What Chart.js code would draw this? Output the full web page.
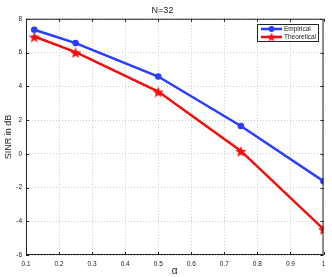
<!DOCTYPE html>
<html>
<head>
<meta charset="utf-8">
<script src="https://cdn.jsdelivr.net/npm/chart.js@4.4.1/dist/chart.umd.min.js"></script>
<style>
  html, body { margin: 0; padding: 0; background: #fff; }
  #wrap { width: 332px; height: 277px; }
</style>
</head>
<body>
<div id="wrap"><canvas id="c" width="332" height="277"></canvas></div>
<script>
const alphas = [0.125, 0.25, 0.5, 0.75, 1]
const empirical = [7.35, 6.56, 4.58, 1.65, -1.63]
const theoretical = [6.95, 6.02, 3.69, 0.17, -4.47]
const seriesNames = ["Empirical", "Theoretical"]

const BLUE = "rgb(40, 62, 255)"
const RED = "rgb(245, 12, 12)"
const FONT = "'Liberation Sans', Arial, sans-serif"

// filled five-point star marker (MATLAB pentagram)
function makeStar(size, color) {
  const cv = document.createElement("canvas")
  cv.width = size; cv.height = size
  const g = cv.getContext("2d")
  const c = size / 2, ro = size / 2, ri = ro * 0.42
  g.beginPath()
  for (let i = 0; i < 10; i++) {
    const r = i % 2 ? ri : ro
    const a = -Math.PI / 2 + i * Math.PI / 5
    g.lineTo(c + r * Math.cos(a), c + 1 + r * Math.sin(a))
  }
  g.closePath()
  g.fillStyle = color
  g.fill()
  return cv
}
const star = makeStar(12, RED)
const starSmall = makeStar(10, RED)

// axes box, inward ticks and the legend, matlab style
const boxPlugin = {
  id: "box",
  afterDraw(chart) {
    const { ctx, chartArea: a, scales } = chart
    ctx.save()
    ctx.strokeStyle = "#222"
    ctx.lineWidth = 1
    ctx.strokeRect(a.left + 0.5, a.top + 0.5, a.right - a.left - 1, a.bottom - a.top - 1)
    ctx.beginPath()
    scales.x.ticks.forEach(t => {
      const x = Math.round(scales.x.getPixelForValue(t.value)) + 0.5
      ctx.moveTo(x, a.bottom); ctx.lineTo(x, a.bottom - 3)
      ctx.moveTo(x, a.top); ctx.lineTo(x, a.top + 3)
    })
    scales.y.ticks.forEach(t => {
      const y = Math.round(scales.y.getPixelForValue(t.value)) + 0.5
      ctx.moveTo(a.left, y); ctx.lineTo(a.left + 3, y)
      ctx.moveTo(a.right, y); ctx.lineTo(a.right - 3, y)
    })
    ctx.stroke()

    // legend
    const lx = 257, ly = 24, lw = 61, lh = 17
    ctx.fillStyle = "#fff"
    ctx.fillRect(lx, ly, lw, lh)
    ctx.strokeStyle = "#222"
    ctx.strokeRect(lx + 0.5, ly + 0.5, lw, lh)
    ctx.font = "6.5px " + FONT
    ctx.textBaseline = "middle"
    const rows = [[BLUE, "circle"], [RED, "star"]]
    rows.forEach((r, i) => {
      const y = ly + 5 + i * 8
      ctx.strokeStyle = r[0]
      ctx.lineWidth = 2.5
      ctx.beginPath(); ctx.moveTo(lx + 4, y); ctx.lineTo(lx + 25, y); ctx.stroke()
      if (r[1] === "circle") {
        ctx.fillStyle = r[0]
        ctx.beginPath(); ctx.arc(lx + 14.5, y, 3, 0, Math.PI * 2); ctx.fill()
      } else {
        ctx.drawImage(starSmall, lx + 9.5, y - 5.5)
      }
      ctx.fillStyle = "#222"
      ctx.fillText(seriesNames[i], lx + 27, y + 0.5)
    })
    ctx.restore()
  }
}

new Chart(document.getElementById("c"), {
  type: "line",
  data: {
    datasets: [
      {
        label: seriesNames[0],
        data: alphas.map((a, i) => ({ x: a, y: empirical[i] })),
        borderColor: BLUE,
        backgroundColor: BLUE,
        borderWidth: 2.5,
        pointStyle: "circle",
        pointRadius: 3.3,
        pointBorderWidth: 0,
        tension: 0
      },
      {
        label: seriesNames[1],
        data: alphas.map((a, i) => ({ x: a, y: theoretical[i] })),
        borderColor: RED,
        backgroundColor: RED,
        borderWidth: 2.5,
        pointStyle: star,
        pointRadius: 6,
        tension: 0
      }
    ]
  },
  options: {
    responsive: false,
    animation: false,
    layout: { padding: { left: 0, right: 7, top: 0, bottom: 0 } },
    plugins: {
      legend: { display: false },
      tooltip: { enabled: false },
      title: {
        display: true,
        text: "N=32",
        color: "#222",
        font: { size: 9, family: FONT, weight: "normal" },
        padding: { top: 5, bottom: 3 }
      }
    },
    scales: {
      x: {
        type: "linear",
        min: 0.1,
        max: 1,
        afterFit: s => { s.height = 22 },
        ticks: {
          stepSize: 0.1,
          color: "#222",
          padding: 5,
          font: { size: 6.5, family: FONT },
          callback: v => Math.round(v * 10) / 10
        },
        grid: { color: "#bbb", tickLength: 0, lineWidth: 0.8 },
        border: { display: false, dash: [1, 2] },
        title: {
          display: true,
          text: "α",
          color: "#222",
          font: { size: 10, family: FONT },
          padding: { top: 0, bottom: 0 }
        }
      },
      y: {
        min: -6,
        max: 8,
        afterFit: s => { s.width = 26 },
        ticks: {
          stepSize: 2,
          color: "#222",
          padding: 4,
          font: { size: 6.5, family: FONT }
        },
        grid: { color: "#bbb", tickLength: 0, lineWidth: 0.8 },
        border: { display: false, dash: [1, 2] },
        title: {
          display: true,
          text: "SINR in dB",
          color: "#222",
          font: { size: 9, family: FONT },
          padding: { top: 3, bottom: 0 }
        }
      }
    }
  },
  plugins: [boxPlugin]
})
</script>
</body>
</html>
